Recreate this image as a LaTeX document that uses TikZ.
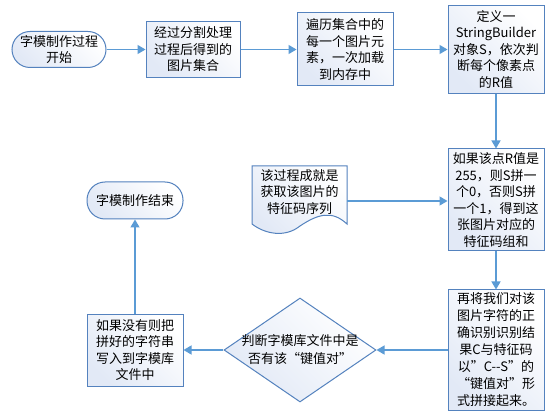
\documentclass[tikz,border=0pt]{standalone}
\usepackage{fontspec}
\newfontfamily\cjk{Noto Sans CJK SC}
\usetikzlibrary{arrows.meta,shapes.geometric}
\definecolor{bordc}{RGB}{84,130,190}
\definecolor{linec}{RGB}{91,155,213}
\definecolor{fillc}{RGB}{226,233,246}
\begin{document}
\begin{tikzpicture}[x=1pt,y=-1pt,
  txt/.style={font=\cjk\fontsize{13}{16.5}\selectfont, align=center, inner sep=0pt},
  base/.style={draw=bordc, line width=1pt, top color=white, bottom color=fillc, shading angle=-45, txt},
  box/.style={base, rectangle},
  term/.style={base, rectangle, rounded corners=18pt},
  conn/.style={draw=linec, line width=1.3pt, -{Triangle[length=8pt,width=9pt]}}]
\useasboundingbox (0,0) rectangle (555,417);
\fill[white] (0,0) rectangle (555,417);

\node[term, minimum width=94pt, minimum height=36pt] (start) at (59,49.5) {字模制作过程\\开始};
\node[box, minimum width=94pt, minimum height=56pt] (b2) at (193,49.5) {经过分割处理\\过程后得到的\\图片集合};
\node[box, minimum width=96pt, minimum height=73pt] (b3) at (345,49.5) {遍历集合中的\\每一个图片元\\素，一次加载\\到内存中};
\node[box, minimum width=96pt, minimum height=88pt] (b4) at (496,49.5) {定义一\\StringBuilder\\对象S，依次判\\断每个像素点\\的R值};
\node[box, minimum width=96pt, minimum height=102pt] (b5) at (496,200) {如果该点R值是\\255，则S拼一\\个0，否则S拼\\一个1，得到这\\张图片对应的\\特征码组和};
\node[box, minimum width=96pt, minimum height=120pt, font=\cjk\fontsize{13}{17}\selectfont] (b6) at (496,350) {再将我们对该\\图片字符的正\\确识别识别结\\果C与特征码\\以”C-{}-S”的\\“键值对”形\\式拼接起来。};
\node[diamond, base, minimum width=152pt, minimum height=104pt, inner sep=0pt] (dia) at (300,350) {};
\node[txt, font=\cjk\fontsize{13}{18}\selectfont] (diatext) at (dia.center) {判断字模库文件中是\\否有该“键值对”};
\node[box, minimum width=96pt, minimum height=72pt] (b7) at (135,350) {如果没有则把\\拼好的字符串\\写入到字模库\\文件中};
\node[term, minimum width=96pt, minimum height=37pt] (end) at (135,200.5) {字模制作结束};

% document shape
\node[inner sep=0pt, minimum width=95pt, minimum height=70pt] (doc) at (299.5,201) {};
\path[draw=bordc, line width=1pt, top color=white, bottom color=fillc, shading angle=-45]
  (252,166) -- (347,166) -- (347,224)
  .. controls (332,210) and (318,214) .. (300,226)
  .. controls (285,238) and (265,234) .. (252,224) -- cycle;
\node[txt] (doctext) at (299.5,192) {该过程成就是\\获取该图片的\\特征码序列};

\draw[conn] (start) -- (b2);
\draw[conn] (b2) -- (b3);
\draw[conn] (b3) -- (b4);
\draw[conn] (b4) -- (b5);
\draw[conn] (doc.east) -- (doc.east -| b5.west);
\draw[conn] (b5) -- (b6);
\draw[conn] (b6) -- (dia);
\draw[conn] (dia) -- (b7);
\draw[conn] (b7) -- (end);
\end{tikzpicture}
\end{document}
